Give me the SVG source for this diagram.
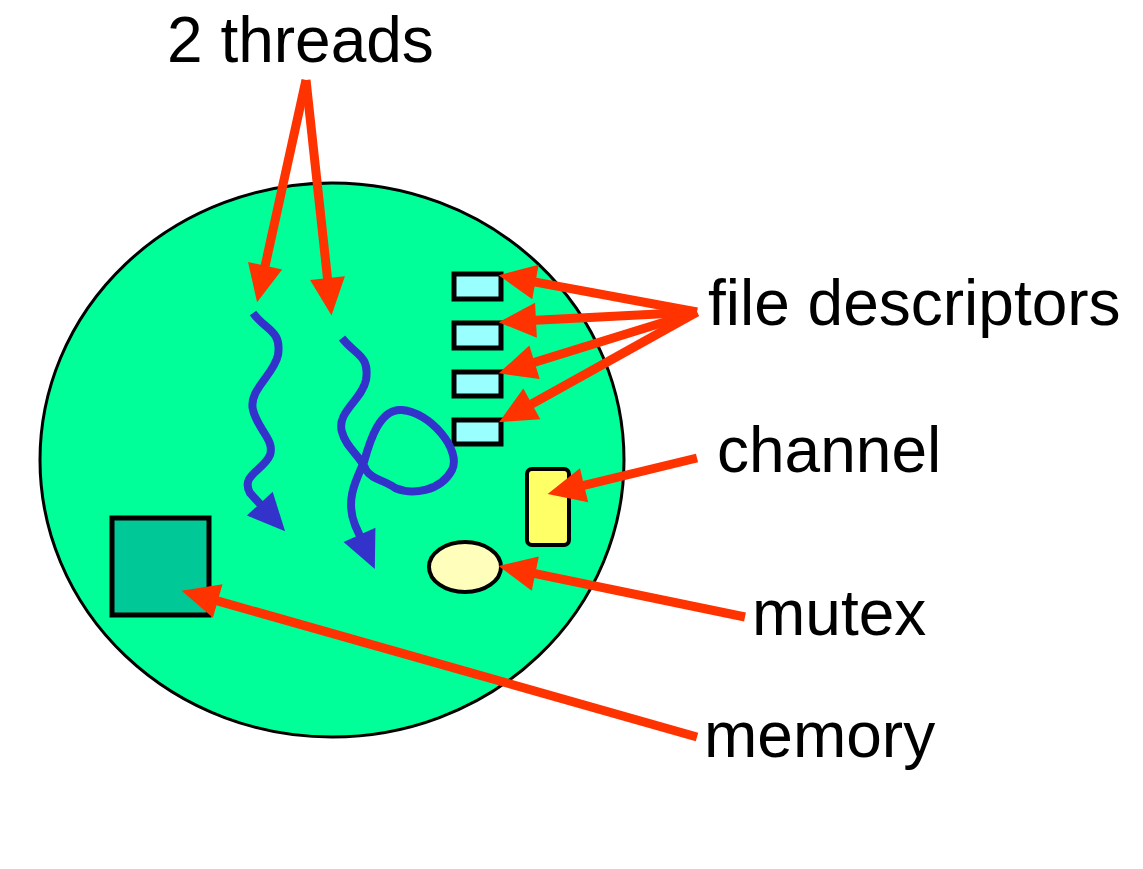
<svg xmlns="http://www.w3.org/2000/svg" width="1143" height="869" viewBox="0 0 1143 869">
<style>
.lbl{font-family:"Liberation Sans",Arial,sans-serif;font-size:64px;fill:#000}
.red{stroke:#FF3300;stroke-width:9;fill:none;marker-end:url(#ra)}
.thr{stroke:#3333CC;stroke-width:8;fill:none;stroke-linecap:butt;stroke-linejoin:round;marker-end:url(#ba)}
.fd{fill:#99FFFF;stroke:#000;stroke-width:5}
</style>
<defs>
<marker id="ra" markerUnits="userSpaceOnUse" markerWidth="50" markerHeight="40" viewBox="-15 -16 36 32" refX="0" refY="0" orient="auto">
<path d="M18,0 L-12,-14 L-12,14 Z" fill="#FF3300"/>
</marker>
<marker id="ba" markerUnits="userSpaceOnUse" markerWidth="50" markerHeight="40" viewBox="-15 -16 36 32" refX="0" refY="0" orient="auto">
<path d="M18,0 L-12,-14 L-12,14 Z" fill="#3333CC"/>
</marker>
</defs>
<rect width="1143" height="869" fill="#fff"/>
<g id="process">
<ellipse cx="332" cy="460" rx="292" ry="277" fill="#00FF99" stroke="#000" stroke-width="3"/>
</g>
<g id="memory-box"><rect x="112" y="518" width="97" height="97" fill="#00C896" stroke="#000" stroke-width="5"/></g>
<g id="fd-boxes">
<rect class="fd" x="454" y="274" width="47" height="25"/>
<rect class="fd" x="454" y="323" width="47" height="25"/>
<rect class="fd" x="454" y="372" width="47" height="24"/>
<rect class="fd" x="454" y="420" width="47" height="24"/>
</g>
<g id="channel-box"><rect x="527" y="469" width="42" height="76" rx="5" fill="#FFFF66" stroke="#000" stroke-width="4"/></g>
<g id="mutex-shape"><ellipse cx="465" cy="567" rx="36" ry="25" fill="#FFFFBB" stroke="#000" stroke-width="4"/></g>
<g id="thread1"><path class="thr" d="M253,313 C265,330 282,330 278,355 C274,375 248,390 253,410 C258,430 275,440 270,455 C264,470 240,475 250,493 L269.9,514.7"/></g>
<g id="thread2"><path class="thr" d="M342,338 C355,355 370,355 366,380 C362,400 336,412 342,432 C346,448 360,455 366,470 C372,480 385,480 395,488 C412,495 440,492 452,470 C462,450 430,412 402,410 C380,408 370,440 364,462 C356,480 345,500 355,525 L365.6,548.6"/></g>
<g id="connectors">
<line class="red" x1="306" y1="80" x2="261.9" y2="280.4"/>
<line class="red" x1="306" y1="80" x2="329.1" y2="293.1"/>
<line class="red" x1="697" y1="312" x2="520.7" y2="279.3"/>
<line class="red" x1="697" y1="312" x2="521" y2="321.1"/>
<line class="red" x1="697" y1="312" x2="520.2" y2="366.7"/>
<line class="red" x1="697" y1="312" x2="518.7" y2="411.2"/>
<line class="red" x1="697" y1="458" x2="569.5" y2="488.8"/>
<line class="red" x1="745" y1="617" x2="520.6" y2="570.6"/>
<line class="red" x1="697" y1="737" x2="203.3" y2="596.9"/>
</g>
<g id="labels">
<text class="lbl" x="167" y="62">2 threads</text>
<text class="lbl" x="708" y="325">file descriptors</text>
<text class="lbl" x="717" y="472">channel</text>
<text class="lbl" x="752" y="635">mutex</text>
<text class="lbl" x="704" y="757">memory</text>
</g>
</svg>
